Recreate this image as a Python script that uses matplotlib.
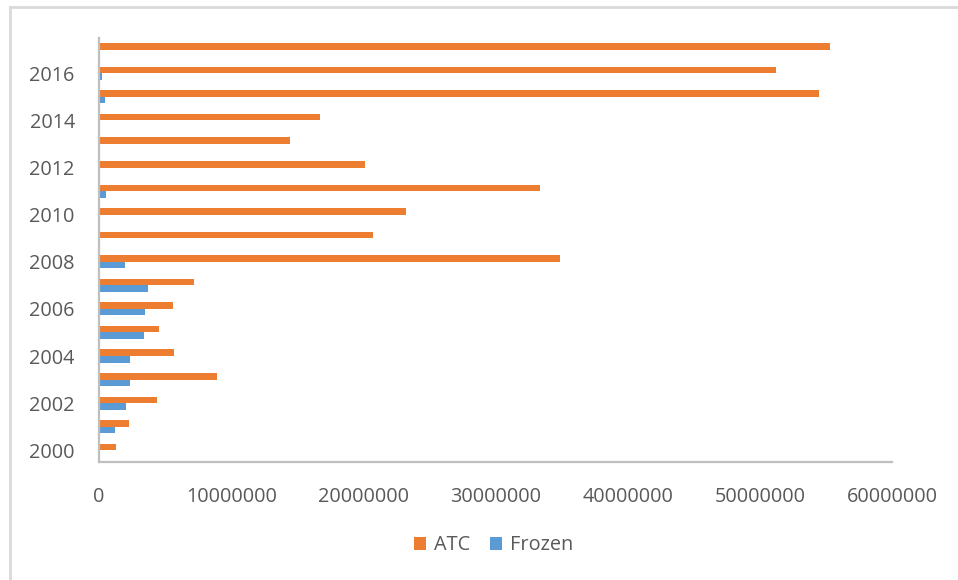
import numpy as np
import matplotlib
matplotlib.use("Agg")
import matplotlib.pyplot as plt
from matplotlib.lines import Line2D

plt.rcParams['font.family'] = ['Open Sans', 'DejaVu Sans']

years = list(range(2000, 2018))
atc = [1280000, 2280000, 4400000, 8900000, 5650000, 4500000, 5560000, 7200000,
       34900000, 20700000, 23200000, 33400000, 20150000, 14450000, 16750000,
       54500000, 51200000, 55300000]
frozen = [0, 1200000, 2050000, 2350000, 2350000, 3400000, 3500000, 3700000,
          1950000, 0, 0, 500000, 0, 0, 100000, 450000, 250000, 0]
tick_years = [2000, 2002, 2004, 2006, 2008, 2010, 2012, 2014, 2016]
xticks = [0, 10000000, 20000000, 30000000, 40000000, 50000000, 60000000]

orange = '#ED7D31'
blue = '#5B9BD5'
grey_txt = '#595959'
axis_col = '#BFBFBF'

fig = plt.figure(figsize=(9.58, 5.8), dpi=100)
ax = fig.add_axes([0.1035, 0.2034, 0.931 - 0.1035, 0.9345 - 0.2034])

y = np.arange(len(years))
h = 0.28
ax.barh(y + h / 2, atc, height=h, color=orange, label='ATC')
ax.barh(y - h / 2, frozen, height=h, color=blue, label='Frozen')

ax.set_ylim(-0.5, len(years) - 0.5)
ax.set_xlim(0, 60000000)
ax.set_yticks([years.index(t) for t in tick_years])
ax.set_yticklabels([str(t) for t in tick_years])
ax.set_xticks(xticks)
ax.set_xticklabels([str(v) for v in xticks])
ax.tick_params(axis='both', length=0, labelsize=14.3, colors=grey_txt)
ax.tick_params(axis='y', pad=17.5)
ax.tick_params(axis='x', pad=18)

for s in ['top', 'right']:
    ax.spines[s].set_visible(False)
for s in ['left', 'bottom']:
    ax.spines[s].set_color(axis_col)
    ax.spines[s].set_linewidth(1.6)

# outer frame (left and top edges)
fig.add_artist(Line2D([0.0105, 0.0105], [0, 0.988], transform=fig.transFigure,
                      color='#D9D9D9', lw=2))
fig.add_artist(Line2D([0.0105, 1], [0.988, 0.988], transform=fig.transFigure,
                      color='#D9D9D9', lw=2))

leg = fig.legend(loc='center', bbox_to_anchor=(0.515, 0.06), ncol=2, frameon=False,
                 fontsize=14.3, handlelength=0.6, handleheight=0.6, handletextpad=0.4,
                 columnspacing=1.0)
for t in leg.get_texts():
    t.set_color(grey_txt)

fig.savefig('out.png', dpi=100)
